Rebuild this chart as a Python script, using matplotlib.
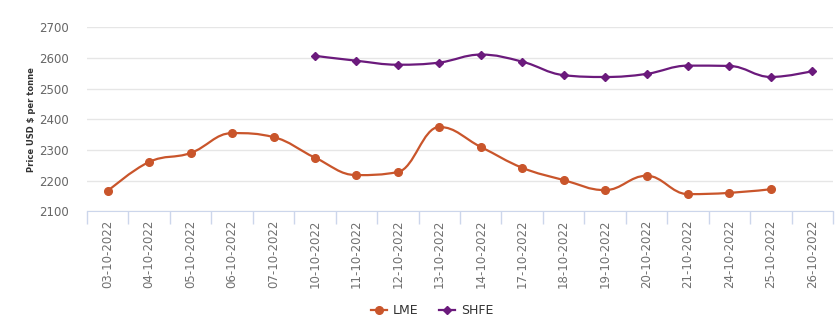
import numpy as np
import matplotlib
matplotlib.use("Agg")
import matplotlib.pyplot as plt
from matplotlib.path import Path
from matplotlib.patches import PathPatch
from matplotlib.lines import Line2D

dates = ["03-10-2022", "04-10-2022", "05-10-2022", "06-10-2022", "07-10-2022",
         "10-10-2022", "11-10-2022", "12-10-2022", "13-10-2022", "14-10-2022",
         "17-10-2022", "18-10-2022", "19-10-2022", "20-10-2022", "21-10-2022",
         "24-10-2022", "25-10-2022", "26-10-2022"]
lme = [2166, 2261, 2290, 2355, 2342, 2275, 2218, 2228, 2375, 2310,
       2242, 2202, 2169, 2216, 2156, 2160, 2172, None]
shfe = [None, None, None, None, None, 2607, 2591, 2578, 2585, 2611,
        2588, 2544, 2538, 2548, 2575, 2574, 2538, 2557]

LME_COL = "#c9552b"
SHFE_COL = "#6b1a7c"


def spline_path(xs, ys, smoothing=1.5):
    # highcharts-like spline: bezier segments through points
    denom = smoothing + 1
    n = len(xs)
    verts = [(xs[0], ys[0])]
    codes = [Path.MOVETO]
    right = [None] * n
    left = [None] * n
    for i in range(1, n - 1):
        px, py = xs[i], ys[i]
        lx, ly = xs[i - 1], ys[i - 1]
        nx_, ny_ = xs[i + 1], ys[i + 1]
        lcx = (smoothing * px + lx) / denom
        lcy = (smoothing * py + ly) / denom
        rcx = (smoothing * px + nx_) / denom
        rcy = (smoothing * py + ny_) / denom
        if rcx != lcx:
            corr = (rcy - lcy) * (rcx - px) / (rcx - lcx) + py - rcy
            lcy += corr
            rcy += corr
        if lcy > ly and lcy > py:
            lcy = max(ly, py); rcy = 2 * py - lcy
        elif lcy < ly and lcy < py:
            lcy = min(ly, py); rcy = 2 * py - lcy
        if rcy > ny_ and rcy > py:
            rcy = max(ny_, py); lcy = 2 * py - rcy
        elif rcy < ny_ and rcy < py:
            rcy = min(ny_, py); lcy = 2 * py - rcy
        left[i] = (lcx, lcy)
        right[i] = (rcx, rcy)
    for i in range(1, n):
        c1 = right[i - 1] if right[i - 1] is not None else (xs[i - 1], ys[i - 1])
        c2 = left[i] if left[i] is not None else (xs[i], ys[i])
        verts += [c1, c2, (xs[i], ys[i])]
        codes += [Path.CURVE4] * 3
    return Path(verts, codes)


fig = plt.figure(figsize=(8.39, 3.32), dpi=100)
ax = fig.add_axes([87 / 839, 1 - 211.3 / 332, (833 - 87) / 839, (211.3 - 27.3) / 332])

for vals, col, mk, ms in [(lme, LME_COL, "o", 5.5), (shfe, SHFE_COL, "D", 4.2)]:
    idx = [i for i, v in enumerate(vals) if v is not None]
    xs = [float(i) for i in idx]
    ys = [float(vals[i]) for i in idx]
    ax.add_patch(PathPatch(spline_path(xs, ys), fill=False, edgecolor=col, lw=1.6, zorder=3))
    ax.plot(xs, ys, ls="none", marker=mk, ms=ms, color=col, zorder=4)

ax.set_xlim(-0.5, 17.27)
ax.set_ylim(2100, 2700)
ax.set_yticks(range(2100, 2701, 100))
ax.grid(axis="y", color="#e6e6e6", lw=1)
ax.set_axisbelow(True)

ax.set_xticks(np.arange(-0.5, 17.6, 1))
ax.set_xticklabels([])
ax.set_xticks(range(len(dates)), minor=True)
ax.set_xticklabels(dates, minor=True, rotation=90, fontsize=8.5, color="#707070")
ax.tick_params(axis="x", which="major", length=9, color="#ccd6eb", width=1)
ax.tick_params(axis="x", which="minor", length=0, pad=6)
ax.tick_params(axis="y", length=0, labelsize=8.5, labelcolor="#666666", pad=13)

for s in ["top", "right", "left"]:
    ax.spines[s].set_visible(False)
ax.spines["bottom"].set_color("#ccd6eb")

fig.text(31 / 839, 1 - 120 / 332, "Price USD $ per tonne", rotation=90,
         ha="center", va="center", fontsize=6, fontweight="bold", color="#333333")

handles = [Line2D([], [], color=LME_COL, marker="o", ms=5.5, lw=1.6),
           Line2D([], [], color=SHFE_COL, marker="D", ms=4.2, lw=1.6)]
fig.legend(handles, ["LME", "SHFE"], loc="center", bbox_to_anchor=(0.515, 1 - 311 / 332),
           ncol=2, frameon=False, fontsize=9, handlelength=1.3, columnspacing=1.6,
           handletextpad=0.5, labelcolor="#333333")

fig.savefig("out.png", dpi=100)
